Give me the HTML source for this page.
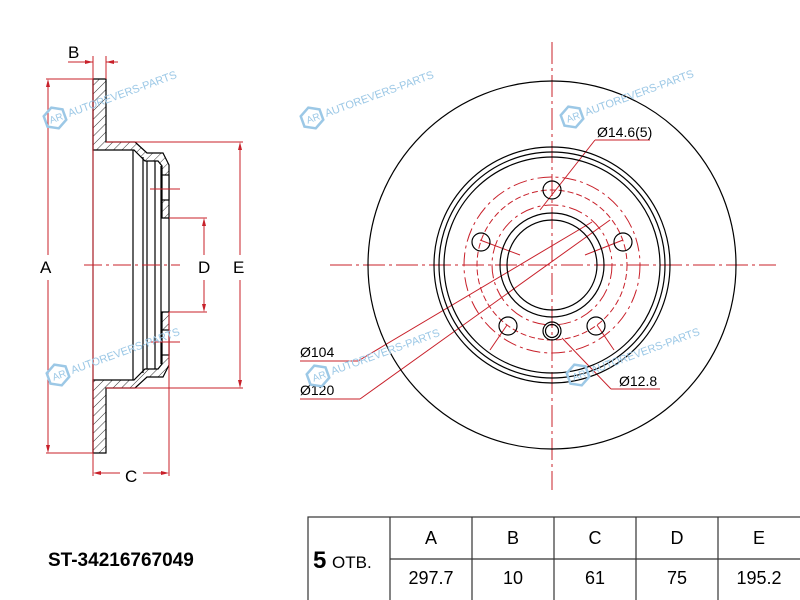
<!DOCTYPE html>
<html><head><meta charset="utf-8"><style>
html,body{margin:0;padding:0;background:#fff;}
svg{display:block;font-family:"Liberation Sans",Arial,sans-serif;}
</style></head><body>
<svg width="800" height="600" viewBox="0 0 800 600" xmlns="http://www.w3.org/2000/svg">
<defs>
<pattern id="h" width="6" height="6" patternUnits="userSpaceOnUse" patternTransform="rotate(45)">
<line x1="0" y1="0" x2="0" y2="6" stroke="#000" stroke-width="0.8"/>
</pattern>
<g id="wm">
<polygon points="0,-11 10,-5.5 10,5.5 0,11 -10,5.5 -10,-5.5" fill="none" stroke="#9cc8e6" stroke-width="2.5"/>
<text x="-6" y="4" font-size="10" fill="#9cc8e6">AR</text>
<text x="14" y="4" font-size="11" fill="#9cc8e6">AUTOREVERS-PARTS</text>
</g>
</defs>

<g stroke="#000" stroke-width="1.2" fill="none">
 <path d="M93,79 H106 V142 H135 L147,153 H163 L169,165 V218 H162 V166 L158,161 H145 L134,150 H93 Z" fill="url(#h)"/>
 <path d="M93,453 H106 V388 H135 L147,377 H163 L169,365 V312 H162 V364 L158,369 H145 L134,380 H93 Z" fill="url(#h)"/>
 <line x1="93" y1="79" x2="93" y2="453"/>
 <line x1="133" y1="150" x2="133" y2="380"/>
 <line x1="143" y1="157" x2="143" y2="373"/>
 <line x1="147" y1="161" x2="147" y2="369"/>
 <line x1="155" y1="161" x2="155" y2="369"/>
 <line x1="161" y1="166" x2="161" y2="364"/>
 <line x1="169" y1="218" x2="169" y2="312"/>
 <rect x="162" y="175" width="7" height="25" fill="#fff"/>
 <rect x="162" y="330" width="7" height="25" fill="#fff"/>
</g>
<g stroke="#c8202a" stroke-width="1" fill="none">
 <line x1="46" y1="79" x2="93" y2="79"/><line x1="46" y1="453" x2="93" y2="453"/>
 <line x1="48" y1="82" x2="48" y2="255"/><line x1="48" y1="280" x2="48" y2="450"/>
 <line x1="106" y1="142" x2="243" y2="142"/><line x1="106" y1="388" x2="243" y2="388"/>
 <line x1="240" y1="145" x2="240" y2="255"/><line x1="240" y1="280" x2="240" y2="385"/>
 <line x1="169" y1="218" x2="207" y2="218"/><line x1="169" y1="312" x2="207" y2="312"/>
 <line x1="204" y1="221" x2="204" y2="255"/><line x1="204" y1="280" x2="204" y2="309"/>
 <line x1="93" y1="56" x2="93" y2="476"/><line x1="106" y1="56" x2="106" y2="79"/>
 <line x1="169" y1="312" x2="169" y2="476"/>
 <line x1="96" y1="473" x2="120" y2="473"/><line x1="143" y1="473" x2="166" y2="473"/>
 <line x1="68" y1="62" x2="93" y2="62"/><line x1="106" y1="62" x2="118" y2="62"/>
 <line x1="84" y1="265" x2="180" y2="265" stroke-dasharray="18,4,3,4"/>
 <line x1="150" y1="189" x2="180" y2="189"/><line x1="150" y1="342" x2="180" y2="342"/>
</g>
<g fill="#c8202a">
 <path d="M48,79 l-2,8 h4z"/><path d="M48,453 l-2,-8 h4z"/>
 <path d="M240,142 l-2,8 h4z"/><path d="M240,388 l-2,-8 h4z"/>
 <path d="M204,218 l-2,8 h4z"/><path d="M204,312 l-2,-8 h4z"/>
 <path d="M93,473 l8,-2 v4z"/><path d="M169,473 l-8,-2 v4z"/>
 <path d="M93,62 l-8,-2 v4z"/><path d="M106,62 l8,-2 v4z"/>
</g>
<g font-size="17" fill="#000">
 <text x="40" y="273">A</text><text x="198" y="273">D</text><text x="233" y="273">E</text>
 <text x="68" y="58">B</text><text x="125" y="482">C</text>
</g>

<g stroke="#c8202a" stroke-width="1" fill="none">
 <line x1="330" y1="265" x2="776" y2="265" stroke-dasharray="22,4,3,4"/>
 <line x1="552" y1="42" x2="552" y2="490" stroke-dasharray="22,4,3,4"/>
 <circle cx="552" cy="265" r="60" stroke-dasharray="14,4,3,4"/>
 <circle cx="552" cy="265" r="88" stroke-dasharray="14,4,3,4"/>
 <circle cx="552" cy="265" r="75" stroke-dasharray="6,3"/>
 <line x1="300" y1="361" x2="358" y2="361"/>
 <line x1="358" y1="361" x2="592" y2="222"/>
 <line x1="300" y1="399" x2="360" y2="399"/>
 <line x1="360" y1="399" x2="610" y2="220"/>
 <line x1="595" y1="140" x2="650" y2="140"/>
 <line x1="595" y1="140" x2="540" y2="210"/>
 <line x1="611" y1="389" x2="660" y2="389"/>
 <line x1="611" y1="389" x2="562" y2="338"/>
 <line x1="480" y1="240" x2="520" y2="255"/>
 <line x1="623" y1="240" x2="585" y2="255"/>
 <line x1="507" y1="325" x2="490" y2="350"/>
 <line x1="597" y1="325" x2="614" y2="350"/>
</g>
<g stroke="#000" stroke-width="1.2" fill="none">
 <circle cx="552" cy="265" r="184"/>
 <circle cx="552" cy="265" r="118"/>
 <circle cx="552" cy="265" r="113"/>
 <circle cx="552" cy="265" r="108"/>
 <circle cx="552" cy="265" r="52"/>
 <circle cx="552" cy="265" r="45"/>
 <circle cx="552" cy="190" r="9"/>
 <circle cx="481" cy="242" r="9"/>
 <circle cx="623" cy="242" r="9"/>
 <circle cx="508" cy="326" r="9"/>
 <circle cx="596" cy="326" r="9"/>
 <circle cx="552" cy="331" r="9"/>
 <circle cx="552" cy="331" r="6.5"/>
</g>
<g font-size="14" fill="#000">
 <text x="597" y="137">Ø14.6(5)</text>
 <text x="300" y="357">Ø104</text>
 <text x="300" y="395">Ø120</text>
 <text x="619" y="386">Ø12.8</text>
</g>

<use href="#wm" transform="translate(55,118) rotate(-20)"/>
<use href="#wm" transform="translate(312,118) rotate(-20)"/>
<use href="#wm" transform="translate(572,117) rotate(-20)"/>
<use href="#wm" transform="translate(58,375) rotate(-20)"/>
<use href="#wm" transform="translate(318,376) rotate(-20)"/>
<use href="#wm" transform="translate(578,375) rotate(-20)"/>

<g stroke="#333" stroke-width="1.2" fill="none">
 <rect x="308" y="517" width="500" height="90"/>
 <line x1="390" y1="559" x2="800" y2="559"/>
 <line x1="390" y1="517" x2="390" y2="600"/>
 <line x1="472" y1="517" x2="472" y2="600"/>
 <line x1="554" y1="517" x2="554" y2="600"/>
 <line x1="636" y1="517" x2="636" y2="600"/>
 <line x1="718" y1="517" x2="718" y2="600"/>
</g>
<g font-size="18" fill="#000" text-anchor="middle">
 <text x="431" y="544">A</text><text x="513" y="544">B</text><text x="595" y="544">C</text><text x="677" y="544">D</text><text x="759" y="544">E</text>
 <text x="431" y="584">297.7</text><text x="513" y="584">10</text><text x="595" y="584">61</text><text x="677" y="584">75</text><text x="759" y="584">195.2</text>
</g>
<text x="313" y="568" font-size="24" font-weight="bold">5</text>
<text x="332" y="568" font-size="17">ОТВ.</text>
<text x="48" y="566" font-size="19" font-weight="bold">ST-34216767049</text>
</svg>
</body></html>
